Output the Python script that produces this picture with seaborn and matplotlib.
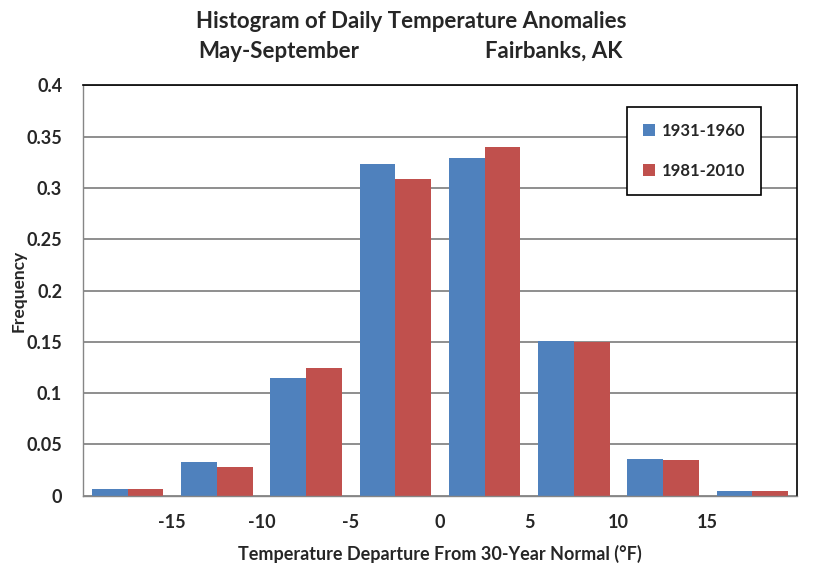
import matplotlib
matplotlib.use("Agg")
import matplotlib.pyplot as plt
import seaborn as sns
import pandas as pd

bins = ["-20 to -15", "-15 to -10", "-10 to -5", "-5 to 0", "0 to 5", "5 to 10", "10 to 15", "15 to 20"]
freq_1931_1960 = [0.0065, 0.0326, 0.1148, 0.3233, 0.3290, 0.1512, 0.0357, 0.0045]
freq_1981_2010 = [0.0065, 0.0278, 0.1245, 0.3088, 0.3398, 0.1498, 0.0346, 0.0045]
series_names = ["1931-1960", "1981-2010"]
x_tick_labels = ["", "-15", "-10", "-5", "0", "5", "10", "15", ""]
y_ticks = [0, 0.05, 0.1, 0.15, 0.2, 0.25, 0.3, 0.35, 0.4]
y_tick_labels = ["0", "0.05", "0.1", "0.15", "0.2", "0.25", "0.3", "0.35", "0.4"]

df = pd.DataFrame({
    "bin": bins * 2,
    "freq": freq_1931_1960 + freq_1981_2010,
    "period": [series_names[0]] * len(bins) + [series_names[1]] * len(bins),
})

sns.set_style("white")
plt.rcParams["font.family"] = ["Lato", "DejaVu Sans"]

fig = plt.figure(figsize=(8.23, 5.69), dpi=100)
ax = fig.add_axes([83 / 823, 1 - 495.7 / 569, (797 - 83) / 823, (495.7 - 85.3) / 569])

colors = ["#4F81BD", "#C0504D"]
sns.barplot(data=df, x="bin", y="freq", hue="period", order=bins, hue_order=series_names,
            palette=colors, width=0.8, saturation=1, ax=ax, legend=True, linewidth=0)

ax.set_xlim(-0.5, len(bins) - 0.5)
ax.set_ylim(0, 0.4)
ax.set_xticks([i - 0.5 for i in range(len(bins) + 1)])
ax.set_xticklabels(x_tick_labels, fontsize=13, fontweight="bold")
ax.set_yticks(y_ticks)
ax.set_yticklabels(y_tick_labels, fontsize=13, fontweight="bold")
ax.yaxis.grid(True, color="#868686", linewidth=1.3)
ax.set_axisbelow(True)

for side in ["left", "bottom"]:
    ax.spines[side].set_color("#868686")
    ax.spines[side].set_linewidth(1.0)
for side in ["top", "right"]:
    ax.spines[side].set_color("black")
    ax.spines[side].set_linewidth(1.2)
ax.tick_params(axis="both", which="both", direction="out", length=6, width=1.0, color="#868686")
ax.tick_params(axis="x", pad=7)
ax.tick_params(axis="y", pad=9)

ax.set_xlabel("Temperature Departure From 30-Year Normal (°F)", fontsize=13, fontweight="bold", labelpad=10)
ax.set_ylabel("Frequency", fontsize=12.5, fontweight="bold")
ax.yaxis.set_label_coords((19 - 83) / 714, 0.5)
ax.yaxis.label.set_verticalalignment("center")

handles, labels = ax.get_legend_handles_labels()
leg = ax.legend(handles, labels, loc="upper left", bbox_to_anchor=(627 / 823, 1 - 107 / 569),
                bbox_transform=fig.transFigure, frameon=True, fancybox=False,
                edgecolor="black", framealpha=1, prop={"weight": "bold", "size": 12},
                handlelength=0.75, handleheight=0.75, handletextpad=0.4,
                labelspacing=1.45, borderpad=0.95, borderaxespad=0)
leg.get_frame().set_linewidth(1.2)

fig.text(0.5, 1 - 22 / 569, "Histogram of Daily Temperature Anomalies", ha="center", va="center",
         fontsize=16, fontweight="bold")
fig.text(279 / 823, 1 - 51 / 569, "May-September", ha="center", va="center", fontsize=16, fontweight="bold")
fig.text(554 / 823, 1 - 51 / 569, "Fairbanks, AK", ha="center", va="center", fontsize=16, fontweight="bold")

fig.savefig("out.png", dpi=100)
